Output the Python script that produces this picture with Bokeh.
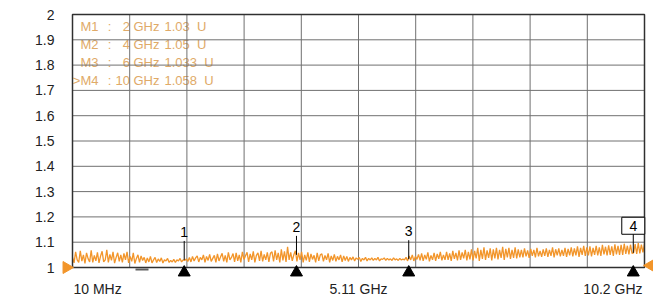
import numpy as np
from bokeh.plotting import figure
from bokeh.models import Range1d, FixedTicker, CustomJSTickFormatter
from bokeh.core.properties import value
from bokeh.embed import file_html
from bokeh.resources import INLINE

# ---------------- data ----------------
f_start, f_stop = 0.01, 10.2          # GHz
ref_level = 1.0

trace = [
    1.040, 1.018, 1.062, 1.030, 1.020, 1.066, 1.025, 1.050, 1.016, 1.058, 1.035, 1.022, 1.068, 1.020, 1.048, 1.026,
    1.060, 1.018, 1.045, 1.064, 1.022, 1.030, 1.070, 1.020, 1.052, 1.028, 1.062, 1.017, 1.040, 1.058, 1.024, 1.050,
    1.020, 1.056, 1.030, 1.062, 1.018, 1.044, 1.024, 1.058, 1.016, 1.036, 1.050, 1.020, 1.046, 1.028, 1.040, 1.018,
    1.038, 1.022, 1.044, 1.018, 1.030, 1.040, 1.020, 1.034, 1.024, 1.038, 1.018, 1.030, 1.026, 1.036, 1.020, 1.028,
    1.022, 1.032, 1.020, 1.030, 1.026, 1.036, 1.022, 1.030, 1.028, 1.034, 1.024, 1.040, 1.022, 1.044, 1.026, 1.038,
    1.046, 1.022, 1.040, 1.030, 1.050, 1.020, 1.044, 1.028, 1.052, 1.024, 1.036, 1.048, 1.020, 1.054, 1.026, 1.042,
    1.056, 1.024, 1.048, 1.020, 1.060, 1.030, 1.040, 1.055, 1.022, 1.058, 1.026, 1.050, 1.020, 1.062, 1.032, 1.046,
    1.060, 1.022, 1.054, 1.030, 1.064, 1.020, 1.048, 1.058, 1.026, 1.066, 1.024, 1.052, 1.030, 1.060, 1.022, 1.056,
    1.062, 1.024, 1.068, 1.030, 1.058, 1.020, 1.072, 1.028, 1.064, 1.022, 1.082, 1.030, 1.060, 1.026, 1.050, 1.066,
    1.024, 1.058, 1.030, 1.062, 1.020, 1.050, 1.028, 1.060, 1.022, 1.054, 1.032, 1.048, 1.020, 1.058, 1.026, 1.050,
    1.054, 1.024, 1.048, 1.030, 1.056, 1.020, 1.046, 1.028, 1.052, 1.024, 1.044, 1.030, 1.050, 1.022, 1.046, 1.028,
    1.044, 1.024, 1.040, 1.030, 1.042, 1.026, 1.038, 1.032, 1.040, 1.024, 1.036, 1.030, 1.040, 1.026, 1.036, 1.030,
    1.038, 1.028, 1.036, 1.030, 1.040, 1.026, 1.034, 1.032, 1.038, 1.028, 1.036, 1.030, 1.034, 1.028, 1.038, 1.030,
    1.034, 1.028, 1.036, 1.030, 1.033, 1.030, 1.040, 1.026, 1.046, 1.030, 1.050, 1.026, 1.044, 1.032, 1.052, 1.028,
    1.056, 1.026, 1.050, 1.032, 1.060, 1.024, 1.048, 1.030, 1.058, 1.026, 1.054, 1.034, 1.062, 1.028, 1.050, 1.030,
    1.062, 1.030, 1.056, 1.026, 1.066, 1.034, 1.058, 1.028, 1.068, 1.030, 1.060, 1.036, 1.070, 1.028, 1.062, 1.032,
    1.072, 1.028, 1.066, 1.036, 1.078, 1.026, 1.070, 1.034, 1.080, 1.030, 1.068, 1.038, 1.076, 1.028, 1.072, 1.036,
    1.078, 1.032, 1.070, 1.038, 1.082, 1.030, 1.074, 1.040, 1.078, 1.034, 1.070, 1.038, 1.080, 1.036, 1.072, 1.040,
    1.070, 1.040, 1.076, 1.044, 1.068, 1.038, 1.074, 1.046, 1.070, 1.040, 1.078, 1.044, 1.066, 1.042, 1.072, 1.046,
    1.076, 1.042, 1.070, 1.046, 1.080, 1.040, 1.072, 1.048, 1.076, 1.044, 1.070, 1.046, 1.078, 1.042, 1.074, 1.048,
    1.080, 1.044, 1.076, 1.048, 1.084, 1.042, 1.078, 1.050, 1.086, 1.046, 1.080, 1.048, 1.084, 1.044, 1.078, 1.050,
    1.086, 1.048, 1.080, 1.046, 1.090, 1.052, 1.082, 1.048, 1.088, 1.050, 1.084, 1.046, 1.092, 1.052, 1.086, 1.050,
    1.090, 1.050, 1.094, 1.054, 1.086, 1.052, 1.090, 1.056, 1.058, 1.092, 1.054, 1.096, 1.056, 1.090, 1.060, 1.094,
]
freq = np.linspace(f_start, f_stop, len(trace))   # sweep points

marker_ids = ["1", "2", "3", "4"]
marker_freq = [2.0, 4.0, 6.0, 10.0]
marker_val = [1.03, 1.05, 1.033, 1.058]
active_marker = 3

table_names = ["M1", "M2", "M3", ">M4"]
table_freq = ["2 GHz", "4 GHz", "6 GHz", "10 GHz"]
table_vals = ["1.03\u00a0\u00a0U", "1.05\u00a0\u00a0U", "1.033\u00a0\u00a0U", "1.058\u00a0\u00a0U"]

y_ticks = [1.0, 1.1, 1.2, 1.3, 1.4, 1.5, 1.6, 1.7, 1.8, 1.9, 2.0]
n_xdiv = 10
x_labels = ["10 MHz", "5.11 GHz", "10.2 GHz"]

# ---------------- layout helpers (page pixels -> data) ----------------
PX0, PX1 = 72, 644
PY0, PY1 = 267, 14
kx = (f_stop - f_start) / (PX1 - PX0)
ky = (y_ticks[-1] - y_ticks[0]) / (PY0 - PY1)
def X(px): return f_start + (px - PX0) * kx
def Y(py): return y_ticks[0] + (PY0 - py) * ky

FONT = value("Liberation Sans")
ORANGE = "#F2952A"
TAN = "#E0AA68"

p = figure(width=653, height=300,
           x_range=Range1d(X(60), X(653)), y_range=Range1d(Y(300), Y(10)),
           output_backend="svg", toolbar_location=None, x_axis_location=None,
           min_border_left=60, min_border_right=0, min_border_top=10, min_border_bottom=0)
p.outline_line_color = None
p.grid.visible = False
p.background_fill_color = "white"
p.border_fill_color = "white"

ax = p.yaxis[0]
ax.ticker = FixedTicker(ticks=y_ticks)
ax.formatter = CustomJSTickFormatter(code="return String(Math.round(tick*10)/10)")
ax.axis_line_color = None
ax.major_tick_line_color = None
ax.minor_tick_line_color = None
ax.major_tick_out = 0
ax.major_tick_in = 0
ax.major_label_standoff = 6
ax.major_label_text_font = "Liberation Sans"
ax.major_label_text_font_size = "14px"
ax.major_label_text_color = "#222222"

# marker table (under the grid)
rows_y = [Y(26 + 18 * i) for i in range(len(table_names))]
tfs = "13px"
p.text(x=[X(98)] * 4, y=rows_y, text=table_names, text_align="right", text_baseline="middle",
       text_font=FONT, text_font_size=tfs, text_color=TAN)
p.text(x=[X(109)] * 4, y=rows_y, text=[":"] * 4, text_align="center", text_baseline="middle",
       text_font=FONT, text_font_size=tfs, text_color=TAN)
p.text(x=[X(159)] * 4, y=rows_y, text=table_freq, text_align="right", text_baseline="middle",
       text_font=FONT, text_font_size=tfs, text_color=TAN)
p.text(x=[X(164)] * 4, y=rows_y, text=table_vals, text_align="left", text_baseline="middle",
       text_font=FONT, text_font_size=tfs, text_color=TAN)

# grid
x_grid = np.linspace(f_start, f_stop, n_xdiv + 1)
p.segment(x0=x_grid, y0=y_ticks[0], x1=x_grid, y1=y_ticks[-1], line_color="#707070", line_width=1)
p.segment(x0=f_start, y0=y_ticks, x1=f_stop, y1=y_ticks, line_color="#707070", line_width=1)

# trace
p.line(freq, trace, line_color=ORANGE, line_width=1.3)

# frame
p.quad(left=f_start, right=f_stop, bottom=y_ticks[0], top=y_ticks[-1],
       fill_color=None, line_color="#303030", line_width=1.5)

# markers
mv = np.array(marker_val)
p.segment(x0=marker_freq, y0=mv, x1=marker_freq, y1=mv + 0.075, line_color="black", line_width=1)
lab_idx = [i for i in range(len(marker_ids)) if i != active_marker]
p.text(x=[marker_freq[i] for i in lab_idx], y=[mv[i] + 0.11 for i in lab_idx],
       text=[marker_ids[i] for i in lab_idx], text_align="center", text_baseline="middle",
       text_font=FONT, text_font_size="14px", text_color="black")
p.rect(x=[marker_freq[active_marker]], y=[mv[active_marker] + 0.107], width=23, height=17,
       width_units="screen", height_units="screen", fill_color="white", line_color="black", line_width=1)
p.text(x=[marker_freq[active_marker]], y=[mv[active_marker] + 0.107], text=[marker_ids[active_marker]],
       text_align="center", text_baseline="middle", text_font=FONT, text_font_size="14px", text_color="black")
p.scatter(x=marker_freq, y=[Y(272)] * len(marker_freq), marker="triangle", size=12,
          fill_color="black", line_color="black")

# reference-level indicators
p.scatter(x=[X(66)], y=[ref_level], marker="triangle", size=12, angle=-np.pi / 2,
          fill_color=ORANGE, line_color=ORANGE)
p.scatter(x=[X(650)], y=[Y(265)], marker="triangle", size=12, angle=np.pi / 2,
          fill_color=ORANGE, line_color=ORANGE)
p.segment(x0=[X(135)], y0=[Y(269)], x1=[X(148)], y1=[Y(269)], line_color="#606060", line_width=2)

# bottom frequency labels
p.text(x=[f_start], y=[Y(288)], text=[x_labels[0]], text_align="left", text_baseline="middle",
       x_offset=1, text_font=FONT, text_font_size="14px", text_color="#222222")
p.text(x=[(f_start + f_stop) / 2], y=[Y(288)], text=[x_labels[1]], text_align="center",
       text_baseline="middle", text_font=FONT, text_font_size="14px", text_color="#222222")
p.text(x=[f_stop], y=[Y(288)], text=[x_labels[2]], text_align="right", text_baseline="middle",
       x_offset=-2, text_font=FONT, text_font_size="14px", text_color="#222222")

open("out.html", "w").write(file_html(p, INLINE))
